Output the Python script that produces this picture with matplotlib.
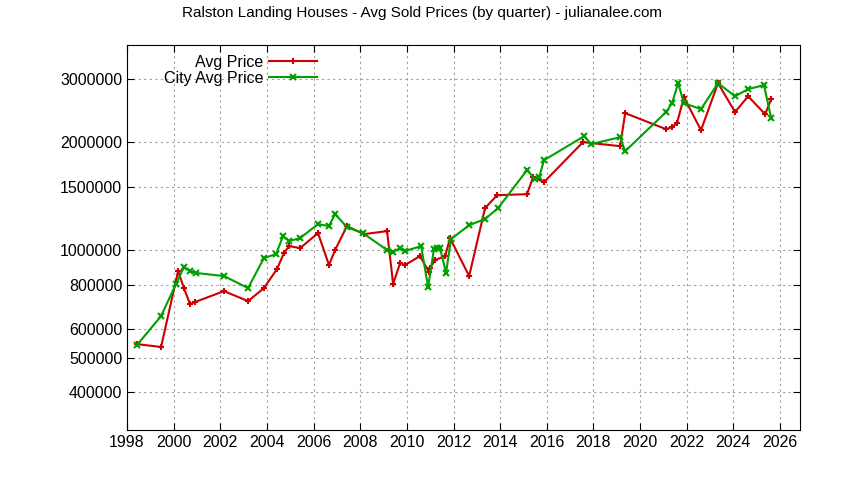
import matplotlib
matplotlib.use('Agg')
import matplotlib.pyplot as plt
from matplotlib.ticker import FixedLocator, NullLocator, FixedFormatter

plt.rcParams['font.family'] = ['Liberation Sans', 'DejaVu Sans']

# Avg Price (red)
avg_years = [1998.43, 1999.46, 2000.19, 2000.44, 2000.70, 2000.92, 2002.16, 2003.19, 2003.87,
             2004.43, 2004.73, 2004.95, 2005.42, 2006.19, 2006.66, 2006.92, 2007.43, 2008.16,
             2009.15, 2009.41, 2009.71, 2009.92, 2010.56, 2010.95, 2010.99, 2011.21, 2011.64,
             2011.85, 2012.67, 2013.35, 2013.87, 2015.15, 2015.41, 2015.88, 2017.55, 2019.14,
             2019.36, 2021.11, 2021.37, 2021.58, 2021.88, 2022.61, 2023.34, 2024.07, 2024.63,
             2025.36, 2025.62]
avg_price = [546, 536, 874, 783, 707, 716, 768, 720, 783,
             885, 981, 1026, 1013, 1115, 908, 1000, 1167, 1108,
             1130, 804, 920, 908, 962, 868, 890, 938, 962,
             1080, 846, 1310, 1424, 1433, 1599, 1549, 2003, 1952,
             2414, 2178, 2206, 2263, 2675, 2163, 2928, 2430, 2692,
             2398, 2641]

# City Avg Price (green)
city_years = [1998.43, 1999.46, 2000.10, 2000.44, 2000.70, 2000.96, 2002.16, 2003.19, 2003.87,
              2004.39, 2004.69, 2004.95, 2005.42, 2006.19, 2006.66, 2006.92, 2007.43, 2008.12,
              2009.15, 2009.41, 2009.71, 2009.92, 2010.61, 2010.91, 2011.16, 2011.29, 2011.42,
              2011.68, 2011.89, 2012.67, 2013.35, 2013.91, 2015.15, 2015.50, 2015.67, 2015.88,
              2017.60, 2017.90, 2019.14, 2019.36, 2021.11, 2021.37, 2021.63, 2021.88, 2022.61,
              2023.34, 2024.07, 2024.63, 2025.31, 2025.62]
city_price = [543, 654, 804, 896, 874, 863, 846, 783, 950,
              975, 1094, 1060, 1080, 1182, 1167, 1261, 1159, 1115,
              1000, 988, 1013, 994, 1026, 788, 1006, 1013, 1013,
              863, 1073, 1174, 1221, 1310, 1673, 1579, 1599, 1784,
              2081, 1978, 2068, 1890, 2430, 2574, 2928, 2574, 2477,
              2928, 2692, 2818, 2890, 2338]

avg_price = [v * 1000 for v in avg_price]
city_price = [v * 1000 for v in city_price]

y_ticks = [400000, 500000, 600000, 800000, 1000000, 1500000, 2000000, 3000000]
x_ticks = list(range(1998, 2027, 2))

fig = plt.figure(figsize=(8.44, 4.8), dpi=100)
ax = fig.add_axes([0.1505, 0.104, 0.7975, 0.802])

ax.plot(avg_years, avg_price, color='#cc0000', lw=1.5, marker='+', ms=5, mew=1.5, label='Avg Price')
ax.plot(city_years, city_price, color='#00a000', lw=1.5, marker='x', ms=4, mew=1.5, label='City Avg Price')

ax.set_yscale('log')
ax.set_ylim(314000, 3740000)
ax.set_xlim(1998, 2026.86)
ax.yaxis.set_major_locator(FixedLocator(y_ticks))
ax.yaxis.set_major_formatter(FixedFormatter([str(t) for t in y_ticks]))
ax.yaxis.set_minor_locator(NullLocator())
ax.set_xticks(x_ticks)
ax.tick_params(direction='in', top=True, right=True, labelsize=11.5, length=5)
ax.grid(True, color='#a0a0a0', linestyle=(0, (2, 3)), linewidth=0.8)

fig.text(0.5, 0.972, 'Ralston Landing Houses - Avg Sold Prices (by quarter) - julianalee.com',
         ha='center', va='center', fontsize=11)

leg = ax.legend(loc='upper left', bbox_to_anchor=(0.04, 1.0), frameon=False, markerfirst=False,
                fontsize=11.5, handlelength=3.0, borderaxespad=0.2, labelspacing=0.05, handletextpad=0.4)
for t in leg.get_texts():
    t.set_ha('right')
leg._legend_box.align = 'right'

fig.savefig('out.png', dpi=100)
